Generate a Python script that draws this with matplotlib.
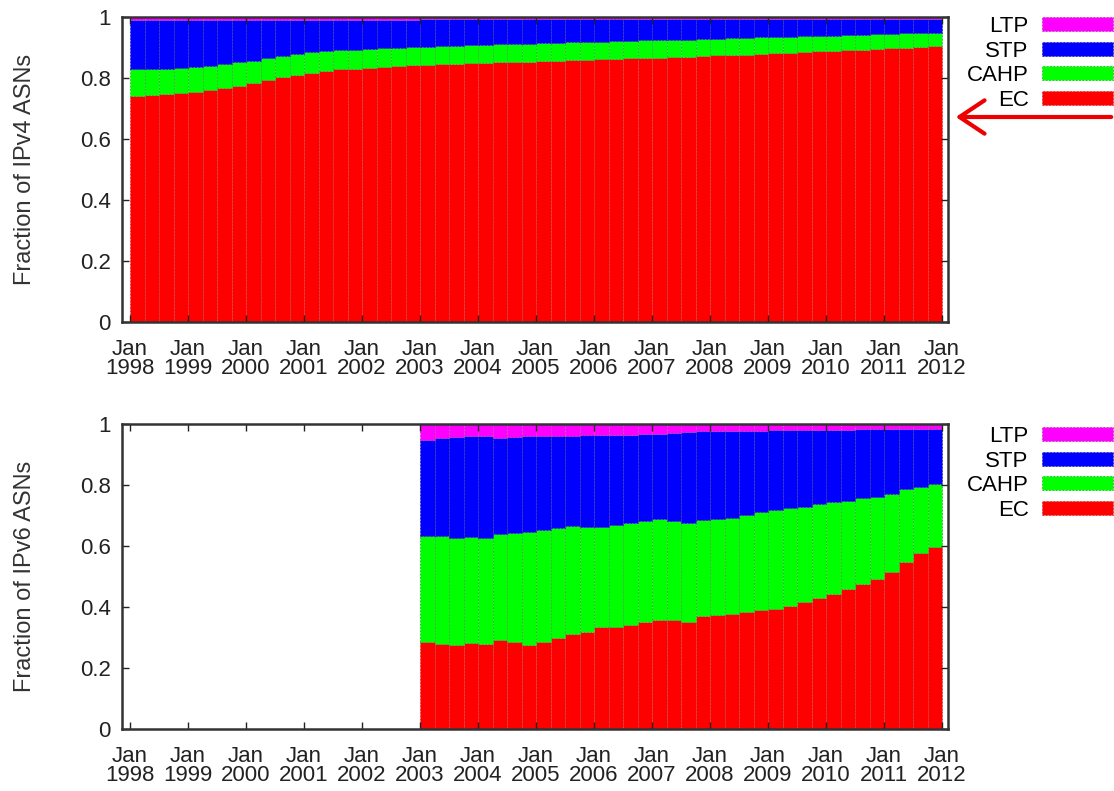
import numpy as np
import matplotlib
matplotlib.use("Agg")
import matplotlib.pyplot as plt

plt.rcParams["font.family"] = ["Liberation Sans", "DejaVu Sans"]

# --- quarterly shares, IPv4 (Q1 1998 .. Q4 2011) ---
v4_ec = [0.741, 0.744, 0.748, 0.751, 0.755, 0.760, 0.766, 0.773,
         0.782, 0.792, 0.802, 0.810, 0.818, 0.823, 0.828, 0.831,
         0.834, 0.836, 0.838, 0.841, 0.843, 0.845, 0.846, 0.848,
         0.850, 0.851, 0.853, 0.854, 0.855, 0.857, 0.858, 0.860,
         0.861, 0.862, 0.864, 0.865, 0.866, 0.868, 0.870, 0.872,
         0.874, 0.876, 0.877, 0.879, 0.881, 0.883, 0.885, 0.887,
         0.889, 0.891, 0.893, 0.895, 0.897, 0.899, 0.902, 0.905]
v4_cahp = [0.087, 0.085, 0.082, 0.081, 0.080, 0.080, 0.079, 0.078,
           0.075, 0.072, 0.069, 0.068, 0.066, 0.065, 0.063, 0.062,
           0.061, 0.061, 0.061, 0.060, 0.060, 0.060, 0.060, 0.060,
           0.059, 0.059, 0.059, 0.059, 0.059, 0.058, 0.059, 0.058,
           0.058, 0.058, 0.058, 0.058, 0.058, 0.057, 0.056, 0.055,
           0.055, 0.054, 0.054, 0.054, 0.053, 0.052, 0.052, 0.051,
           0.050, 0.049, 0.049, 0.048, 0.047, 0.047, 0.045, 0.044]
v4_stp = [0.162, 0.161, 0.160, 0.158, 0.155, 0.150, 0.145, 0.139,
          0.133, 0.126, 0.119, 0.112, 0.106, 0.102, 0.099, 0.097,
          0.095, 0.093, 0.091, 0.089, 0.089, 0.087, 0.086, 0.084,
          0.083, 0.082, 0.080, 0.079, 0.079, 0.078, 0.076, 0.075,
          0.074, 0.073, 0.071, 0.070, 0.069, 0.068, 0.067, 0.066,
          0.065, 0.064, 0.063, 0.061, 0.060, 0.059, 0.057, 0.056,
          0.055, 0.054, 0.052, 0.051, 0.050, 0.048, 0.047, 0.045]
v4_ltp = [0.010] * 20 + [0.008] * 8 + [0.007] * 12 + [0.006] * 16

# --- quarterly shares, IPv6 (Q1 2003 .. Q4 2011) ---
v6_ec = [0.284, 0.279, 0.275, 0.281, 0.279, 0.292, 0.284, 0.275,
         0.286, 0.297, 0.311, 0.319, 0.333, 0.336, 0.340, 0.350,
         0.357, 0.357, 0.350, 0.372, 0.374, 0.377, 0.383, 0.390,
         0.395, 0.404, 0.417, 0.431, 0.442, 0.458, 0.475, 0.491,
         0.515, 0.546, 0.577, 0.596]
v6_cahp = [0.349, 0.354, 0.351, 0.348, 0.347, 0.348, 0.360, 0.371,
           0.366, 0.363, 0.355, 0.344, 0.330, 0.332, 0.334, 0.332,
           0.333, 0.325, 0.327, 0.313, 0.314, 0.316, 0.319, 0.321,
           0.323, 0.320, 0.312, 0.306, 0.301, 0.290, 0.281, 0.271,
           0.255, 0.241, 0.218, 0.206]
v6_stp = [0.314, 0.322, 0.332, 0.331, 0.334, 0.315, 0.314, 0.315,
          0.309, 0.302, 0.296, 0.300, 0.301, 0.296, 0.291, 0.284,
          0.277, 0.288, 0.298, 0.292, 0.289, 0.285, 0.276, 0.267,
          0.261, 0.255, 0.251, 0.243, 0.238, 0.233, 0.226, 0.220,
          0.213, 0.196, 0.189, 0.183]
v6_ltp = [0.053, 0.045, 0.042, 0.040, 0.040, 0.045, 0.042, 0.039,
          0.039, 0.038, 0.038, 0.037, 0.036, 0.036, 0.035, 0.034,
          0.033, 0.030, 0.025, 0.023, 0.023, 0.022, 0.022, 0.022,
          0.021, 0.021, 0.020, 0.020, 0.019, 0.019, 0.018, 0.018,
          0.017, 0.017, 0.016, 0.015]

years = list(range(1998, 2013))
categories = ["EC", "CAHP", "STP", "LTP"]
colors = {"EC": "#ff0000", "CAHP": "#00ff00", "STP": "#0000ff", "LTP": "#ff00ff"}
edges = {"EC": "#c83c3c", "CAHP": "#30b030", "STP": "#3030a0", "LTP": "#b040b0"}

W, H = 1114, 791
fig = plt.figure(figsize=(W / 100, H / 100), dpi=100)
ax1 = fig.add_axes([122 / W, 1 - 322 / H, 826 / W, 305 / H])
ax2 = fig.add_axes([122 / W, 1 - 729 / H, 826 / W, 305 / H])


def stacked(ax, start, series, ylabel, legend_top):
    n = len(series["EC"])
    x = start + 0.25 * np.arange(n)   # one bar per quarter
    bottom = np.zeros(n)
    handles = {}
    for cat in categories:
        vals = np.array(series[cat])
        h = ax.bar(x, vals, width=0.25, bottom=bottom, align="edge",
                   color=colors[cat], edgecolor=edges[cat],
                   linewidth=0.6, linestyle=(0, (2, 2)), label=cat)
        handles[cat] = h
        bottom += vals

    ax.set_xlim(1997.862, 2012.103)
    ax.set_ylim(0, 1)
    ax.set_xticks(years)
    ax.set_xticklabels([f"Jan\n{y}" for y in years], linespacing=0.9)
    ax.set_yticks([0, 0.2, 0.4, 0.6, 0.8, 1])
    ax.set_yticklabels(["0", "0.2", "0.4", "0.6", "0.8", "1"])
    ax.tick_params(direction="in", length=5, width=1, colors="#222222",
                   labelsize=16, top=True, right=True, pad=8)
    ax.tick_params(axis="x", pad=12)
    for s in ax.spines.values():
        s.set_linewidth(1.8)
        s.set_color("#333333")
    ax.set_ylabel(ylabel, fontsize=17, color="#333333", labelpad=32)

    order = ["LTP", "STP", "CAHP", "EC"]
    ax.legend([handles[c] for c in order], order, loc="upper right",
              bbox_to_anchor=(1113 / W, 1 - legend_top / H),
              bbox_transform=fig.transFigure,
              frameon=False, markerfirst=False, fontsize=16,
              handlelength=3.2, handleheight=0.6, handletextpad=0.6,
              labelspacing=0.16, borderpad=0, borderaxespad=0)
    return ax


stacked(ax1, 1998, {"EC": v4_ec, "CAHP": v4_cahp, "STP": v4_stp, "LTP": v4_ltp},
        "Fraction of IPv4 ASNs", 16)
stacked(ax2, 2003, {"EC": v6_ec, "CAHP": v6_cahp, "STP": v6_stp, "LTP": v6_ltp},
        "Fraction of IPv6 ASNs", 426)

# red pointer at the EC share of the upper panel
fig.add_artist(matplotlib.patches.FancyArrowPatch(
    (1114 / W, 1 - 117 / H), (953 / W, 1 - 117 / H),
    transform=fig.transFigure, arrowstyle="->, head_length=6, head_width=4",
    color="#ee0000", linewidth=3, mutation_scale=3))

fig.savefig("out.png", dpi=100)
